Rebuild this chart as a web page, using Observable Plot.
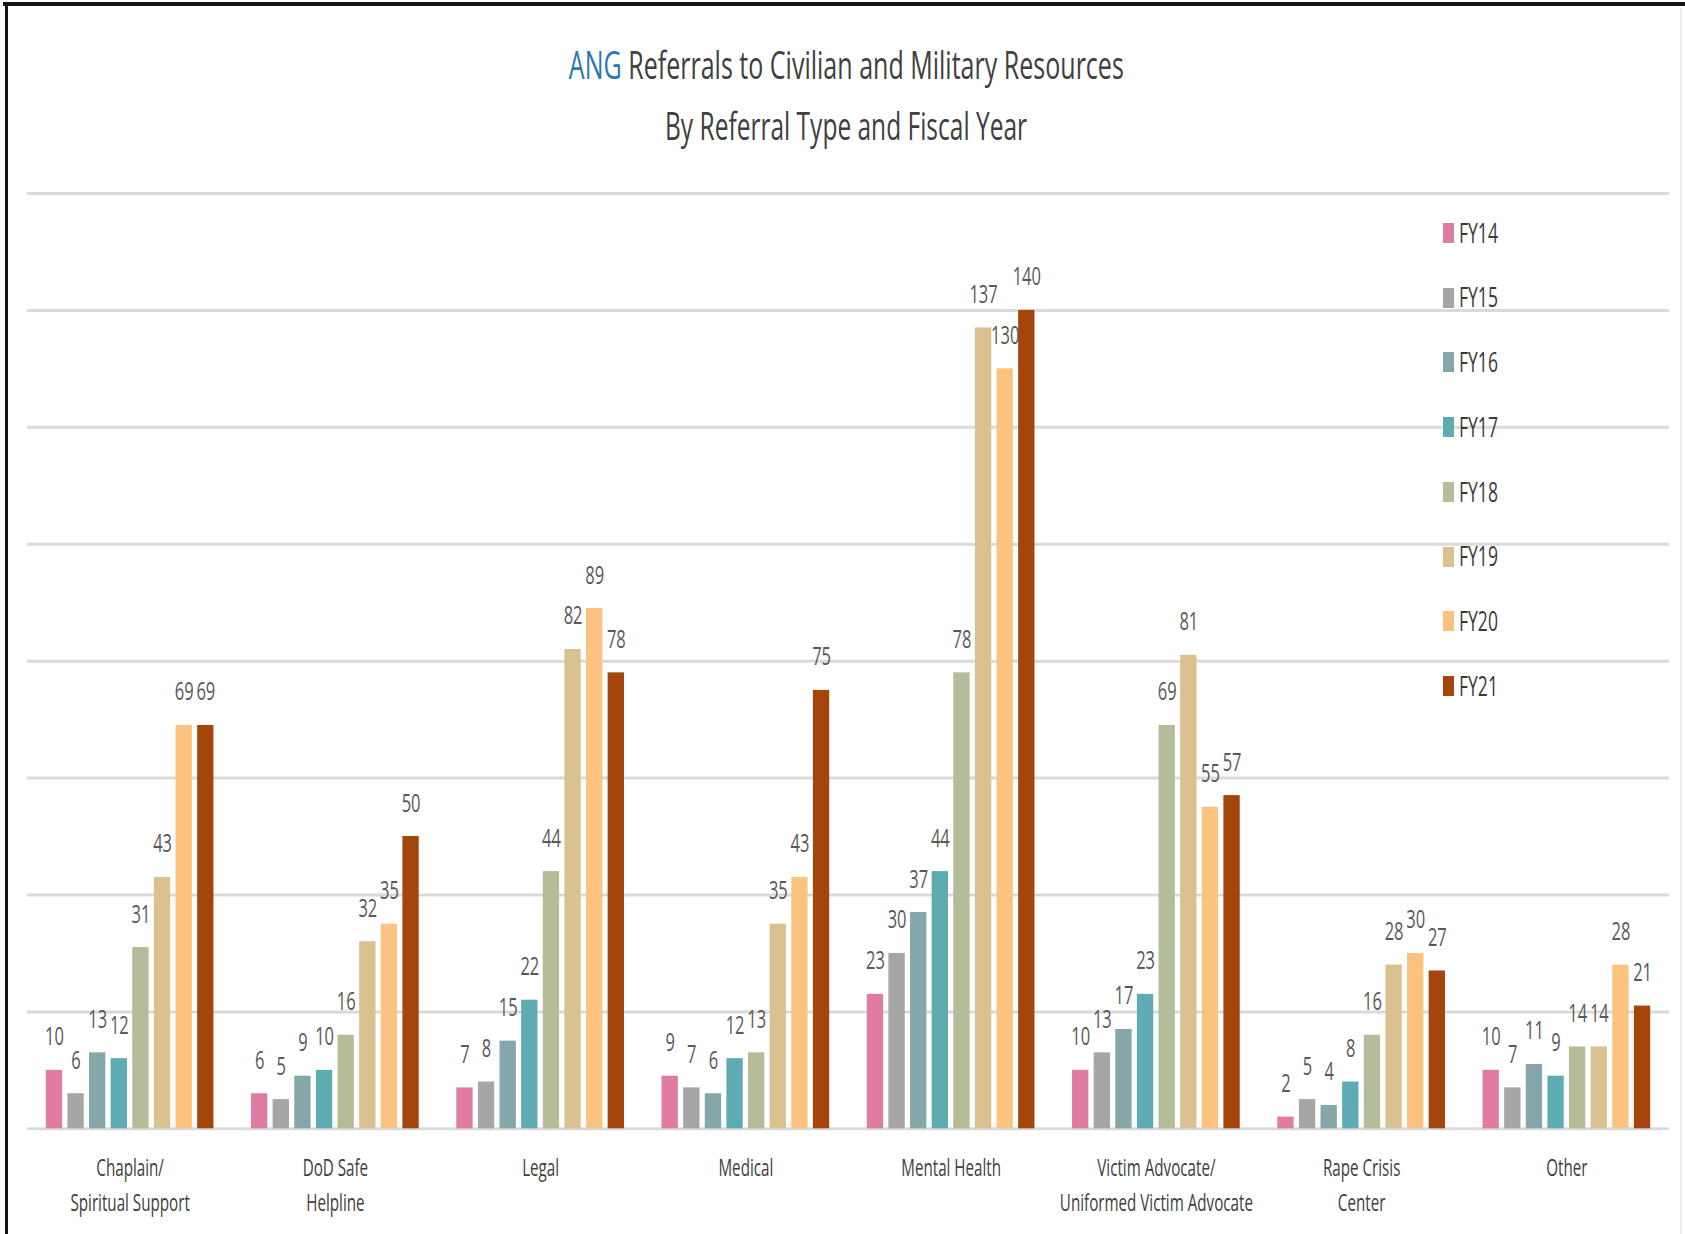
<!DOCTYPE html>
<html>
<head>
<meta charset="utf-8">
<script src="https://cdn.jsdelivr.net/npm/d3@7"></script>
<script src="https://cdn.jsdelivr.net/npm/@observablehq/plot@0.6"></script>
<style>
  html, body { margin:0; padding:0; background:#fff; }
  #page { position:relative; width:1685px; height:1234px; overflow:hidden; font-family:"Open Sans", sans-serif; background:#fff; }
  .border-top { position:absolute; left:3px; top:2px; width:1682px; height:4px; background:#151515; }
  .border-left { position:absolute; left:5px; top:2px; width:3px; height:1232px; background:#151515; }
  .border-right { position:absolute; left:1680px; top:8px; width:2px; height:1226px; background:#ececec; }
  .title { position:absolute; left:0; width:1693px; text-align:center; font-size:39px; line-height:39px; font-weight:500; color:#404040; white-space:nowrap; }
  .title .inner { display:inline-block; transform-origin:50% 50%; }
  .ang { color:#2E75B6; }
  #bg, #fg { position:absolute; left:0; top:160px; }
  .legend-item { position:absolute; left:1443px; width:120px; height:20px; }
  .legend-item .sw { position:absolute; left:0; top:0; width:11px; height:20px; }
  .legend-item .lt { position:absolute; left:16px; top:-3.3px; font-size:26.6px; line-height:26.6px; font-weight:500; color:#3a3a3a; white-space:nowrap; transform-origin:0 50%; transform:scaleX(0.66); }
</style>
</head>
<body>
<div id="page">
  <div class="border-top"></div>
  <div class="border-left"></div>
  <div class="border-right"></div>
  <div class="title" style="top:44.4px"><span class="inner" id="t1"><span class="ang">ANG</span> Referrals to Civilian and Military Resources</span></div>
  <div class="title" style="top:105px"><span class="inner" id="t2">By Referral Type and Fiscal Year</span></div>
  <div id="bg"></div>
  <div id="fg"></div>
  <div id="legend"></div>
</div>
<script>
const categories = [
  "Chaplain/\nSpiritual Support",
  "DoD Safe\nHelpline",
  "Legal",
  "Medical",
  "Mental Health",
  "Victim Advocate/\nUniformed Victim Advocate",
  "Rape Crisis\nCenter",
  "Other"
];
const years = ["FY14", "FY15", "FY16", "FY17", "FY18", "FY19", "FY20", "FY21"];
const colors = ["#E07CA2", "#A6A6A6", "#86A7AA", "#5EABB1", "#B4BC9A", "#D9C192", "#FCC380", "#A4460C"];
const fy14 = [10, 6, 7, 9, 23, 10, 2, 10];
const fy15 = [6, 5, 8, 7, 30, 13, 5, 7];
const fy16 = [13, 9, 15, 6, 37, 17, 4, 11];
const fy17 = [12, 10, 22, 12, 44, 23, 8, 9];
const fy18 = [31, 16, 44, 13, 78, 69, 16, 14];
const fy19 = [43, 32, 82, 35, 137, 81, 28, 14];
const fy20 = [69, 35, 89, 43, 130, 55, 30, 28];
const fy21 = [69, 50, 78, 75, 140, 57, 27, 21];
const yTicks = [0, 20, 40, 60, 80, 100, 120, 140, 160];

const series = [fy14, fy15, fy16, fy17, fy18, fy19, fy20, fy21];
const rows = categories.flatMap((c, i) => years.map((yr, j) => ({category: c, year: yr, value: series[j][i]})));

const W = 1685, H = 1074;
const margins = {marginLeft: 27, marginRight: 16, marginTop: 33, marginBottom: 105.7};

const bg = Plot.plot({
  width: W, height: H, ...margins,
  y: {domain: [0, 160], axis: null},
  marks: [
    Plot.ruleY(yTicks, {stroke: "#dadada", strokeWidth: 3})
  ]
});
document.getElementById("bg").appendChild(bg);

const fg = Plot.plot({
  width: W, height: H, ...margins,
  style: {background: "transparent", fontFamily: "'Open Sans', sans-serif", overflow: "visible"},
  fx: {domain: categories, paddingInner: 0.183, paddingOuter: 0.0915, round: false, label: null},
  x: {domain: years, paddingInner: 0.245, paddingOuter: 0, round: false, axis: null},
  y: {domain: [0, 160], axis: null},
  color: {domain: years, range: colors},
  marks: [
    Plot.barY(rows, {fx: "category", x: "year", y: "value", fill: "year"}),
    Plot.text(rows, {fx: "category", x: "year", y: "value", text: d => String(d.value), dy: -33, fill: "#595959", fontSize: 25, fontWeight: 500}),
    Plot.axisFx({anchor: "bottom", tickSize: 0, tickPadding: 21.5, fontSize: 23, fontWeight: 500, lineHeight: 1.55, color: "#404040", label: null})
  ]
});
document.getElementById("fg").appendChild(fg);

function compress(svg, f) {
  svg.querySelectorAll("text").forEach(t => {
    const spans = t.querySelectorAll("tspan");
    const targets = spans.length ? Array.from(spans) : [t];
    targets.forEach(el => {
      const L = el.getComputedTextLength();
      if (L > 0) {
        el.setAttribute("textLength", (L * f).toFixed(2));
        el.setAttribute("lengthAdjust", "spacingAndGlyphs");
      }
    });
  });
}
compress(fg, 0.66);

// title horizontal compression to match the condensed look
function fit(id, target) {
  const el = document.getElementById(id);
  const w = el.getBoundingClientRect().width;
  el.style.transform = `scaleX(${target / w})`;
}
fit("t1", 555);
fit("t2", 362);

// legend
const legend = document.getElementById("legend");
years.forEach((yr, i) => {
  const item = document.createElement("div");
  item.className = "legend-item";
  item.style.top = (223 + i * 64.7) + "px";
  const sw = document.createElement("div");
  sw.className = "sw";
  sw.style.background = colors[i];
  const lt = document.createElement("div");
  lt.className = "lt";
  lt.textContent = yr;
  item.appendChild(sw);
  item.appendChild(lt);
  legend.appendChild(item);
});
</script>
</body>
</html>
